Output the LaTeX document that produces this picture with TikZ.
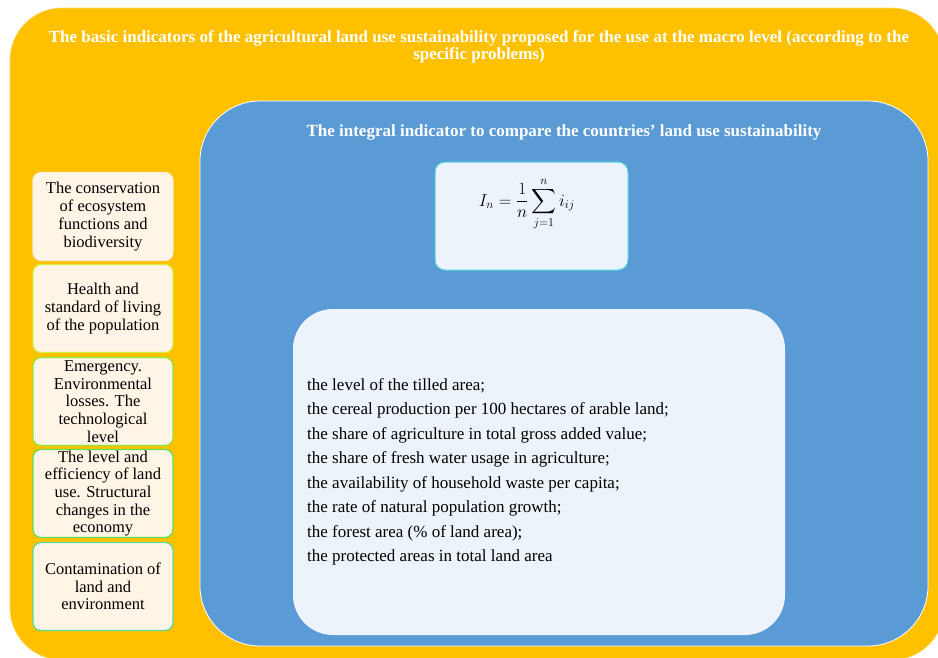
\documentclass[tikz,border=0pt]{standalone}
\usepackage{amsmath}
\usepackage{fontspec}
\setmainfont{Liberation Serif}
\DeclareMathSizes{16}{16}{12}{10}
\usetikzlibrary{positioning}
\definecolor{orangebg}{HTML}{FFC000}
\definecolor{bluebg}{HTML}{5B9BD5}
\definecolor{lightbox}{HTML}{EDF3FA}
\definecolor{creambox}{HTML}{FFF5E6}
\definecolor{bA}{HTML}{F7EDD8}
\definecolor{bB}{HTML}{D6EF3E}
\definecolor{bC}{HTML}{8BE83A}
\definecolor{bD}{HTML}{5FE05A}
\definecolor{bE}{HTML}{55DDA0}
\definecolor{formb}{HTML}{4DD6DC}
\begin{document}
\begin{tikzpicture}[x=1pt,y=-1pt,
  titletext/.style={text=white,font=\fontsize{17}{17}\selectfont\bfseries,align=center,inner sep=0pt},
  sidebox/.style={fill=creambox,draw=#1,line width=1.2pt,rounded corners=8pt,minimum width=140pt,minimum height=88pt,inner sep=0pt,align=center,font=\fontsize{16.5}{17.7}\selectfont,text=black},
  listtext/.style={align=left,anchor=north west,inner sep=0pt,font=\fontsize{17}{24.5}\selectfont,text=black}]
\useasboundingbox (0,0) rectangle (938,657);
% outer orange panel
\node[fill=orangebg,draw=orangebg!60!white,line width=0.6pt,rounded corners=52pt,minimum width=934pt,minimum height=652pt,inner sep=0pt] (outer) at (477,334) {};
\node[titletext] (title) at (479,47) {The basic indicators of the agricultural land use sustainability proposed for the use at the macro level (according to the\\specific problems)};
% blue panel
\node[fill=bluebg,draw=white,line width=0.8pt,rounded corners=60pt,minimum width=728pt,minimum height=545pt,inner sep=0pt] (blue) at (564,373.5) {};
\node[titletext] (btitle) at (564,132) {The integral indicator to compare the countries’ land use sustainability};
% formula box
\node[fill=lightbox,draw=formb,line width=1pt,rounded corners=10pt,minimum width=193pt,minimum height=108pt,inner sep=0pt] (formbox) at (531.5,216) {};
\node[font=\fontsize{16}{20}\selectfont] (formula) at (527,204) {$\displaystyle I_n=\frac{1}{n}\sum_{j=1}^{n} i_{ij}$};
% list box
\node[fill=lightbox,draw=none,rounded corners=40pt,minimum width=492pt,minimum height=326pt,inner sep=0pt] (listbox) at (539,472) {};
\node[listtext] (list) at (307,378) {the level of the tilled area;\\
the cereal production per 100 hectares of arable land;\\
the share of agriculture in total gross added value;\\
the share of fresh water usage in agriculture;\\
the availability of household waste per capita;\\
the rate of natural population growth;\\
the forest area (\% of land area);\\
the protected areas in total land area};
% side boxes
\node[sidebox=bA] (s1) at (103,216.5) {The conservation\\of ecosystem\\functions and\\biodiversity};
\node[sidebox=bB] (s2) at (103,308.5) {Health and\\standard of living\\of the population};
\node[sidebox=bC] (s3) at (103,401.5) {Emergency.\\Environmental\\losses. The\\technological\\level};
\node[sidebox=bD] (s4) at (103,493.5) {The level and\\efficiency of land\\use. Structural\\changes in the\\economy};
\node[sidebox=bE] (s5) at (103,586.5) {Contamination of\\land and\\environment};
\end{tikzpicture}
\end{document}
